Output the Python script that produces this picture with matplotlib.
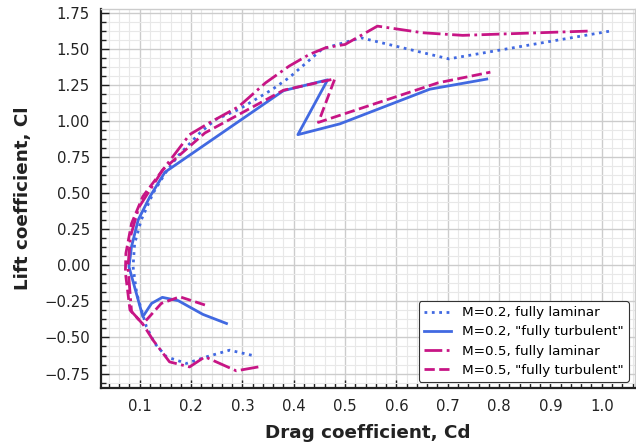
import matplotlib
matplotlib.use("Agg")
import matplotlib.pyplot as plt
from matplotlib.ticker import AutoMinorLocator, MultipleLocator

# M=0.2, fully laminar
cd_m02_lam = [0.318, 0.275, 0.230, 0.191, 0.152, 0.129, 0.113, 0.094, 0.087, 0.090, 0.103, 0.126,
              0.150, 0.175, 0.217, 0.248, 0.293, 0.358, 0.391, 0.456, 0.531, 0.702, 1.017]
cl_m02_lam = [-0.623, -0.588, -0.634, -0.680, -0.634, -0.540, -0.426, -0.194, -0.010, 0.150, 0.315, 0.500,
              0.640, 0.760, 0.917, 1.010, 1.080, 1.218, 1.300, 1.500, 1.576, 1.430, 1.623]

# M=0.2, "fully turbulent"
cd_m02_turb = [0.269, 0.223, 0.175, 0.144, 0.123, 0.106, 0.079, 0.084, 0.097, 0.120, 0.149,
               0.380, 0.466, 0.408, 0.490, 0.665, 0.776]
cl_m02_turb = [-0.403, -0.340, -0.245, -0.222, -0.264, -0.356, -0.010, 0.130, 0.315, 0.477, 0.645,
               1.210, 1.285, 0.905, 0.980, 1.220, 1.290]

# M=0.5, fully laminar
cd_m05_lam = [0.331, 0.288, 0.227, 0.197, 0.158, 0.126, 0.106, 0.084, 0.077, 0.082, 0.098, 0.145,
              0.197, 0.235, 0.293, 0.345, 0.391, 0.430, 0.462, 0.500, 0.563, 0.651, 0.729, 0.977]
cl_m05_lam = [-0.704, -0.731, -0.634, -0.704, -0.669, -0.519, -0.407, -0.320, -0.010, 0.200, 0.400, 0.662,
              0.905, 0.986, 1.100, 1.264, 1.380, 1.460, 1.507, 1.530, 1.657, 1.611, 1.593, 1.623]

# M=0.5, "fully turbulent"
cd_m05_turb = [0.227, 0.178, 0.142, 0.106, 0.081, 0.072, 0.073, 0.084, 0.106, 0.145, 0.227,
               0.380, 0.480, 0.448, 0.681, 0.783]
cl_m05_turb = [-0.275, -0.218, -0.264, -0.407, -0.310, -0.050, 0.083, 0.290, 0.477, 0.662, 0.917,
               1.213, 1.292, 0.990, 1.264, 1.338]

labels = ['M=0.2, fully laminar', 'M=0.2, "fully turbulent"',
          'M=0.5, fully laminar', 'M=0.5, "fully turbulent"']

blue = '#4169E1'
mag = '#C71585'

fig = plt.figure(figsize=(6.36, 4.44), dpi=100)
ax = fig.add_axes([0.159, 0.126, 0.839, 0.854])

ax.plot(cd_m02_lam, cl_m02_lam, color=blue, ls=':', lw=2, label=labels[0])
ax.plot(cd_m02_turb, cl_m02_turb, color=blue, ls='-', lw=2, label=labels[1])
ax.plot(cd_m05_lam, cl_m05_lam, color=mag, ls='-.', lw=2, label=labels[2])
ax.plot(cd_m05_turb, cl_m05_turb, color=mag, ls='--', lw=2, label=labels[3])

ax.xaxis.set_major_locator(MultipleLocator(0.1))
ax.yaxis.set_major_locator(MultipleLocator(0.25))
ax.xaxis.set_minor_locator(AutoMinorLocator(5))
ax.yaxis.set_minor_locator(AutoMinorLocator(4))
ax.grid(which='major', color='#cccccc', lw=1.0)
ax.grid(which='minor', color='#e8e8e8', lw=0.8)
ax.set_axisbelow(True)

ax.tick_params(which='major', direction='in', length=6, width=1, labelsize=10.7, colors='#222222',
               top=False, right=False, pad=8)
ax.tick_params(which='minor', direction='in', length=3.5, width=1, top=False, right=False, colors='#222222')

for s in ['left', 'bottom']:
    ax.spines[s].set_color('#222222')
    ax.spines[s].set_linewidth(1.6)
for s in ['top', 'right']:
    ax.spines[s].set_color('#cccccc')
    ax.spines[s].set_linewidth(1.0)

ax.set_xlabel('Drag coefficient, Cd', fontsize=13.25, fontweight='bold', color='#222222', labelpad=7)
ax.set_ylabel('Lift coefficient, Cl', fontsize=13.25, fontweight='bold', color='#222222', labelpad=8.8)

leg = ax.legend(loc='lower right', fontsize=9.7, frameon=True, framealpha=1,
                edgecolor='#333333', fancybox=True, handlelength=2.0, borderaxespad=0.45,
                labelspacing=0.45)
leg.get_frame().set_linewidth(0.8)

fig.savefig('out.png', dpi=100)
